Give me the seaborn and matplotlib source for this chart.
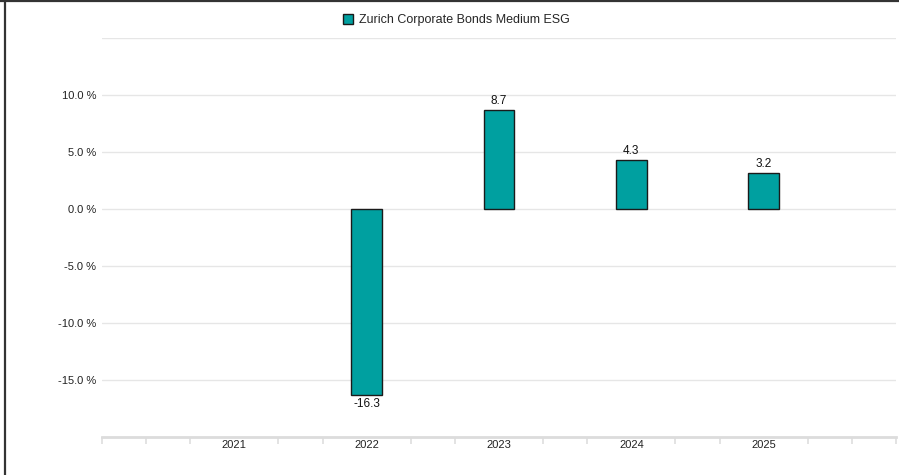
import numpy as np
import pandas as pd
import matplotlib
matplotlib.use("Agg")
import matplotlib.pyplot as plt
import seaborn as sns
from matplotlib.patches import Patch
from matplotlib.ticker import FixedLocator

# data
years = ["2021", "2022", "2023", "2024", "2025"]
returns = [np.nan, -16.3, 8.7, 4.3, 3.2]
series_name = "Zurich Corporate Bonds Medium ESG"
y_ticks = [-20, -15, -10, -5, 0, 5, 10, 15]
y_labelled = [-15, -10, -5, 0, 5, 10]

BAR_COLOR = "#00A0A0"
EDGE_COLOR = "#1a1a1a"
GRID_COLOR = "#e6e6e6"

sns.set_theme(style="white")
plt.rcParams["font.family"] = ["Liberation Sans", "DejaVu Sans"]

df = pd.DataFrame({"year": years, "ret": returns}).dropna()

fig = plt.figure(figsize=(8.99, 4.75), dpi=100)
ax = fig.add_axes([102 / 899, 38 / 475, 794 / 899, 399 / 475])

sns.barplot(data=df, x="year", y="ret", order=years, color=BAR_COLOR,
            saturation=1, width=0.23, edgecolor=EDGE_COLOR, linewidth=1,
            ax=ax, zorder=3)

for c in ax.containers:
    ax.bar_label(c, fmt="%.1f", padding=2, fontsize=8.5, color="#111111")

ax.set_xlim(-1, 5)
ax.set_ylim(-20, 15)
ax.set_xlabel("")
ax.set_ylabel("")

# y axis: percent labels, light grid
ax.set_yticks(y_ticks)
ax.set_yticklabels([f"{v:.1f} %" if v in y_labelled else "" for v in y_ticks])
ax.yaxis.grid(True, color=GRID_COLOR, linewidth=1, zorder=0)
ax.tick_params(axis="y", length=0, pad=4, labelsize=8, labelcolor="#222222")

# x axis: category labels plus faint minor ticks between them
ax.tick_params(axis="x", length=0, pad=2, labelsize=8, labelcolor="#222222")
minor = [i / 3 for i in range(-3, 16) if i % 3 != 0 or i in (-3, 15)]
ax.xaxis.set_minor_locator(FixedLocator(minor))
ax.tick_params(axis="x", which="minor", bottom=True, length=5, width=1.2,
               color="#dedede")

for side in ["top", "right", "left"]:
    ax.spines[side].set_visible(False)
ax.spines["bottom"].set_color("#dcdcdc")
ax.spines["bottom"].set_linewidth(2)

handle = Patch(facecolor=BAR_COLOR, edgecolor=EDGE_COLOR, linewidth=1)
fig.legend([handle], [series_name], loc="center",
           bbox_to_anchor=(456 / 899, 1 - 20 / 475), frameon=False,
           fontsize=9, handlelength=0.8, handleheight=0.8, handletextpad=0.5)

# outer frame lines on the left and top edges
fig.add_artist(plt.Line2D([4.5 / 899, 4.5 / 899], [0, 1], color="#333333",
                          linewidth=1.6, transform=fig.transFigure))
fig.add_artist(plt.Line2D([0, 1], [1 - 1 / 475, 1 - 1 / 475], color="#333333",
                          linewidth=1.6, transform=fig.transFigure))

fig.savefig("out.png", dpi=100)
